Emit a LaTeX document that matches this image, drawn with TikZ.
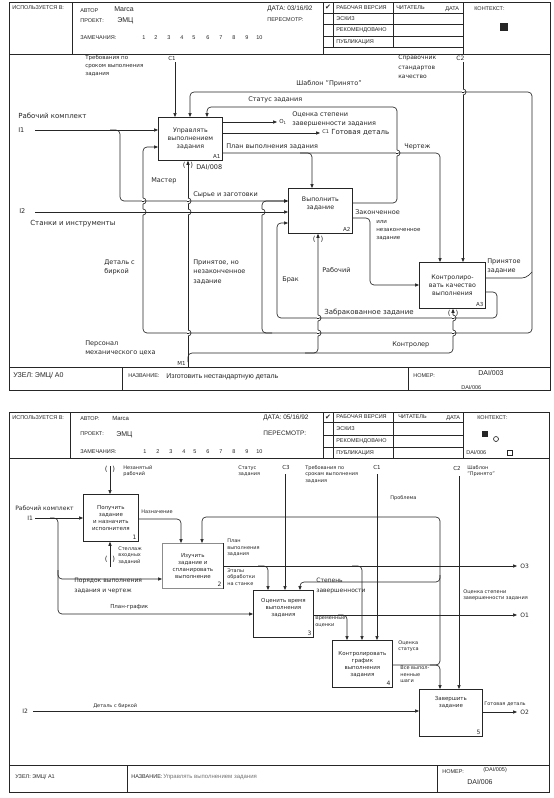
\documentclass[tikz,border=0pt]{standalone}
\usepackage{fontspec}
\setmainfont{DejaVu Sans}
\newfontfamily\hdrfont{Liberation Sans}
\usetikzlibrary{arrows.meta}
\newcommand\vbump[2]{%
  \fill[white] (#1-0.6,#2-3.4) rectangle (#1+0.6,#2+3.4);
  \draw (#1-1,#2) -- (#1+1,#2);
  \draw (#1,#2-3) arc[start angle=90,end angle=-90,radius=3pt];}
\begin{document}
\begin{tikzpicture}[x=1pt,y=-1pt,line width=0.65pt,color=black!85,
  boxa/.style={draw,line width=0.8pt,anchor=north west,align=center,inner sep=1pt,font=\fontsize{6.3}{7.8}\selectfont},
  arr/.style={-{Triangle[length=4pt,width=3.2pt]}},
  arrb/.style={{Triangle[length=4pt,width=3.2pt]}-{Triangle[length=4pt,width=3.2pt]}},
  rc/.style={rounded corners=4pt},
  t5/.style={font=\fontsize{5}{6.5}\selectfont,inner sep=0pt,align=left},
  t55/.style={font=\fontsize{5.5}{8}\selectfont,inner sep=0pt,align=left},
  t6/.style={font=\fontsize{6}{9.5}\selectfont,inner sep=0pt,align=left},
  t65/.style={font=\fontsize{6.5}{9.5}\selectfont,inner sep=0pt,align=left},
  t7/.style={font=\fontsize{7}{9.5}\selectfont,inner sep=0pt,align=left},
  hd/.style={font=\hdrfont\fontsize{5.5}{6.5}\selectfont,inner sep=0pt,anchor=west},
  hdb/.style={font=\hdrfont\fontsize{7}{8}\selectfont,inner sep=0pt,anchor=west},
  tun/.style={font=\fontsize{7}{8}\selectfont,inner sep=0pt}]
\useasboundingbox (0,0) rectangle (554,798);
\fill[white] (0,0) rectangle (554,798);

% ================= PAGE 1 : FRAME =================
\draw[line width=0.8pt] (9,2) rectangle (550,390);
\draw (9,54) -- (550,54);
\draw (9,367) -- (550,367);
\draw (72,2) -- (72,54);
\draw (323,2) -- (323,54);
\draw (463,2) -- (463,54);
\draw (333,2) -- (333,47.5);
\draw (393,2) -- (393,47.5);
\foreach \yy in {13.5,24.5,36,47.5} \draw (323,\yy) -- (463,\yy);
\draw (122,367) -- (122,390);
\draw (408,367) -- (408,390);
\fill (500,23) rectangle (508,31);

\node[hd] (h1) at (12,8) {ИСПОЛЬЗУЕТСЯ В:};
\node[hd] (h2) at (80,11) {АВТОР};
\node[hdb] (h3) at (114,9) {Marca};
\node[hd] (h4) at (80,21) {ПРОЕКТ:};
\node[hdb] (h5) at (117,21) {ЭМЦ};
\node[hd] (h6) at (80,38) {ЗАМЕЧАНИЯ:};
\foreach \xx/\nn [count=\i] in {142/1,154/2,167/3,180/4,192/5,206/6,219/7,232/8,245/9,256/10}
  \node[hd] (hn\i) at (\xx,38) {\nn};
\node[hd,font=\hdrfont\fontsize{6.5}{7}\selectfont] (h7) at (267,9) {ДАТА: 03/16/92};
\node[hd] (h8) at (267,20) {ПЕРЕСМОТР:};
\node[inner sep=0pt,font=\fontsize{7}{7}\selectfont] (h9) at (328,7.5) {✔};
\node[hd] (h10) at (336,8) {РАБОЧАЯ ВЕРСИЯ};
\node[hd] (h11) at (336,19) {ЭСКИЗ};
\node[hd] (h12) at (336,30) {РЕКОМЕНДОВАНО};
\node[hd] (h13) at (336,42) {ПУБЛИКАЦИЯ};
\node[hd] (h14) at (396,8) {ЧИТАТЕЛЬ};
\node[hd] (h15) at (445,9) {ДАТА};
\node[hd] (h16) at (474,9) {КОНТЕКСТ:};
\node[hdb] (f1) at (13,376) {УЗЕЛ: ЭМЦ/ А0};
\node[hd] (f2) at (128,376) {НАЗВАНИЕ:};
\node[hdb] (f3) at (166,377) {Изготовить нестандартную деталь};
\node[hd] (f4) at (413,376) {НОМЕР:};
\node[hdb] (f5) at (478,373) {DAI/003};
\node[hd] (f6) at (461,388) {DAI/006};

% ================= PAGE 1 : BOXES =================
\node[boxa,minimum width=64,minimum height=43] (A1) at (158,117) {Управлять\\выполнением\\задания};
\node[boxa,minimum width=64,minimum height=45] (A2) at (288,188) {Выполнить\\задание\\[8pt]\mbox{}};
\node[boxa,minimum width=66,minimum height=46] (A3) at (419,262) {Контролиро-\\вать качество\\выполнения};
\node[t55,anchor=south east] (A1n) at ([xshift=-2pt,yshift=2pt]A1.south east) {A1};
\node[t55,anchor=south east] (A2n) at ([xshift=-2pt,yshift=2pt]A2.south east) {A2};
\node[t55,anchor=south east] (A3n) at ([xshift=-2pt,yshift=2pt]A3.south east) {A3};

% ================= PAGE 1 : CONNECTORS =================
\coordinate (c1) at (175,62);
\draw[arr] (c1) -- (c1 |- A1.north);
\draw[arrb,rc] (190,0 |- A1.north) -- (190,92) -- (532,92) -- (532,333) -- (143,333) -- (143,147) -- (A1.west |- 0,147);
\draw[rc] (A3.east |- 0,278) -- (526,278) -- (532,272);
\draw[arr,rc] (A2.east |- 0,203) -- (397,203) -- (397,107) -- (207,107) -- (207,0 |- A1.north);
\coordinate (o1) at (277,122);
\draw[arr] (A1.east |- o1) -- (o1);
\coordinate (o2) at (320,133);
\draw[arr] (A1.east |- o2) -- (o2);
\draw[arr,rc] (A1.east |- 0,153) -- (440,153) -- (440,0 |- A3.north);
\draw[arr,rc] (300,153) -- (312,153) -- (312,0 |- A2.north);
\coordinate (c2) at (463,62);
\draw[arr] (c2) -- (c2 |- A3.north);
\coordinate (i1) at (35,130);
\draw[arr] (i1) -- (i1 -| A1.west);
\draw[arr,rc] (110,130) -- (120,130) -- (120,201) -- (A2.west |- 0,201);
\draw[arr,rc] (272,333) -- (262,333) -- (262,201) -- (A2.west |- 0,201);
\coordinate (i2) at (35,212);
\draw[arr] (i2) -- (i2 -| A2.west);
\draw[arr,rc] (A3.east |- 0,292) -- (497,292) -- (497,318) -- (277,318) -- (277,223) -- (A2.west |- 0,223);
\draw[arr,rc] (A2.east |- 0,218) -- (370,218) -- (370,285) -- (A3.west |- 0,285);
\coordinate (m1) at (188,367);
\draw[arr] (m1) -- (m1 |- A1.south);
\draw[arr,rc] (188,362) -- (188,353) -- (453,353) -- (453,0 |- A3.south);
\draw[arr,rc] (305,353) -- (318,353) -- (318,0 |- A2.south);
% bumps
\vbump{397}{153}
\vbump{463}{92}
\vbump{143}{201}
\vbump{143}{212}
\vbump{188}{201}
\vbump{188}{212}
\vbump{188}{333}
\vbump{262}{212}
\vbump{318}{318}
\vbump{318}{333}
\vbump{453}{318}
\vbump{453}{333}
% tunnels
\node[tun] (tp1) at (188,165.5) {(\hspace{5pt})};
\node[tun] (tp2) at (318,239) {(\hspace{5pt})};
\node[tun] (tp3) at (453,313) {(\hspace{5pt})};

% ================= PAGE 1 : LABELS =================
\node[t55,anchor=north west] (L1) at (85,54.5) {Требования по\\сроком выполнения\\задания};
\node[t55,anchor=west] (L2) at (168,58) {C1};
\node[t6,anchor=north west] (L3) at (398,55) {Справочник\\стандартов\\качество};
\node[t6,anchor=west] (L4) at (456,58) {C2};
\node[t65,anchor=west] (L5) at (296,84) {Шаблон "Принято"};
\node[t65,anchor=west] (L6) at (248,100) {Статус задания};
\node[t65,anchor=north west] (L7) at (292,111) {Оценка степени\\завершенности задания};
\node[t55,anchor=west] (L8) at (279,122) {O\textsubscript{1}};
\node[t5,anchor=west] (L9) at (322,132) {C1};
\node[t7,anchor=west] (L10) at (331,132) {Готовая деталь};
\node[t65,anchor=west] (L11) at (226,147) {План выполнения задания};
\node[t65,anchor=west] (L12) at (404,147) {Чертеж};
\node[t7,anchor=west] (L13) at (18,116) {Рабочий комплект};
\node[t65,anchor=west] (L14) at (18,130) {I1};
\node[t65,anchor=west] (L15) at (151,181) {Мастер};
\node[t65,anchor=west] (L16) at (196,167) {DAI/008};
\node[t65,anchor=west] (L17) at (193,195) {Сырье и заготовки};
\node[t65,anchor=west] (L18) at (19,211) {I2};
\node[t7,anchor=west] (L19) at (30,224) {Станки и инструменты};
\node[t65,anchor=north west] (L20) at (104,259) {Деталь с\\биркой};
\node[t65,anchor=north west] (L21) at (193,259) {Принятое, но\\незаконченное\\задание};
\node[t65,anchor=west] (L22) at (355,212) {Законченное};
\node[t55,anchor=north west] (L23) at (376,220) {или\\незаконченное\\задание};
\node[t65,anchor=west] (L24) at (282,280) {Брак};
\node[t65,anchor=west] (L25) at (322,270) {Рабочий};
\node[t65,anchor=north west] (L26) at (487,258) {Принятое\\задание};
\node[t7,anchor=west] (L27) at (324,313) {Забракованное задание};
\node[t65,anchor=north west] (L28) at (85,340) {Персонал\\механического цеха};
\node[t55,anchor=east] (L29) at (186,363) {M1};
\node[t65,anchor=west] (L30) at (392,345) {Контролер};

% ================= PAGE 2 : FRAME =================
\draw[line width=0.8pt] (9,412) rectangle (549,792);
\draw (9,458) -- (549,458);
\draw (9,765) -- (549,765);
\draw (70,412) -- (70,458);
\draw (323,412) -- (323,458);
\draw (463,412) -- (463,458);
\draw (333,412) -- (333,458);
\draw (393,412) -- (393,458);
\foreach \yy in {422.5,435,447} \draw (323,\yy) -- (463,\yy);
\draw (127,765) -- (127,792);
\draw (437,765) -- (437,792);
\fill (482,431) rectangle (488,437);
\draw (496,439) circle[radius=2.5pt];
\draw (507,450) rectangle (512,455);

\node[hd] (k1) at (12,418) {ИСПОЛЬЗУЕТСЯ В:};
\node[hd] (k2) at (80,419) {АВТОР:};
\node[hdb,font=\hdrfont\fontsize{6}{7}\selectfont] (k3) at (112,418) {Marca};
\node[hd] (k4) at (80,434) {ПРОЕКТ:};
\node[hdb] (k5) at (116,435) {ЭМЦ};
\node[hd] (k6) at (80,452) {ЗАМЕЧАНИЯ:};
\foreach \xx/\nn [count=\i] in {143/1,156/2,169/3,182/4,193/5,206/6,219/7,232/8,245/9,256/10}
  \node[hd] (kn\i) at (\xx,452) {\nn};
\node[hd,font=\hdrfont\fontsize{6.5}{7}\selectfont] (k7) at (263,418) {ДАТА: 05/16/92};
\node[hd,font=\hdrfont\fontsize{6.5}{7}\selectfont] (k8) at (263,433) {ПЕРЕСМОТР:};
\node[inner sep=0pt,font=\fontsize{7}{7}\selectfont] (k9) at (328,417.5) {✔};
\node[hd] (k10) at (336,417) {РАБОЧАЯ ВЕРСИЯ};
\node[hd] (k11) at (336,429) {ЭСКИЗ};
\node[hd] (k12) at (336,441) {РЕКОМЕНДОВАНО};
\node[hd] (k13) at (336,453) {ПУБЛИКАЦИЯ};
\node[hd] (k14) at (398,417) {ЧИТАТЕЛЬ};
\node[hd] (k15) at (446,418) {ДАТА};
\node[hd] (k16) at (477,418) {КОНТЕКСТ:};
\node[hd] (k17) at (466,453) {DAI/006};
\node[hd] (g1) at (15,777) {УЗЕЛ: ЭМЦ/ А1};
\node[hd] (g2) at (131,777) {НАЗВАНИЕ:};
\node[hd,text=black!55,font=\hdrfont\fontsize{6}{7}\selectfont] (g3) at (163,777) {Управлять выполнением задания};
\node[hd] (g4) at (442,772) {НОМЕР:};
\node[hd] (g5) at (483,770) {(DAI/005)};
\node[hdb] (g6) at (467,782) {DAI/006};

% ================= PAGE 2 : BOXES =================
\node[boxa,minimum width=55,minimum height=47,font=\fontsize{5.5}{7}\selectfont] (B1) at (83,494) {Получить\\задание\\и назначить\\исполнителя};
\node[boxa,draw=black!45,minimum width=61,minimum height=45,font=\fontsize{5.5}{7}\selectfont] (B2) at (162,543) {Изучить\\задание и\\спланировать\\выполнение};
\draw[line width=0.8pt] (B2.north east) -- (B2.south east);
\node[boxa,minimum width=60,minimum height=47,font=\fontsize{5.5}{7}\selectfont] (B3) at (253,590) {Оценить время\\выполнения\\задания\\[6pt]\mbox{}};
\node[boxa,minimum width=60,minimum height=47,font=\fontsize{5.5}{7}\selectfont] (B4) at (332,640) {Контролировать\\график\\выполнения\\задания};
\node[boxa,minimum width=63,minimum height=47,font=\fontsize{5.5}{7}\selectfont] (B5) at (419,689) {Завершить\\задание\\[14pt]\mbox{}};
\node[t6,anchor=south east] (B1n) at ([xshift=-2pt,yshift=2pt]B1.south east) {1};
\node[t6,anchor=south east] (B2n) at ([xshift=-2pt,yshift=2pt]B2.south east) {2};
\node[t6,anchor=south east] (B3n) at ([xshift=-2pt,yshift=2pt]B3.south east) {3};
\node[t6,anchor=south east] (B4n) at ([xshift=-2pt,yshift=2pt]B4.south east) {4};
\node[t6,anchor=south east] (B5n) at ([xshift=-2pt,yshift=2pt]B5.south east) {5};

% ================= PAGE 2 : CONNECTORS =================
\coordinate (t1) at (110,466);
\draw[arr] (t1) -- (t1 |- B1.north);
\coordinate (t2) at (110,567);
\draw[arr] (t2) -- (t2 |- B1.south);
\node[tun] (tq1) at (110,469) {(\hspace{5pt})};
\node[tun] (tq2) at (110,559) {(\hspace{5pt})};
\coordinate (pi1) at (35,518);
\draw[arr] (pi1) -- (pi1 -| B1.west);
\draw[arr,rc] (50,518) -- (58,518) -- (58,614) -- (B3.west |- 0,614);
\draw[arr,rc] (58,570) -- (58,579) -- (B2.west |- 0,579);
\draw[arr,rc] (B1.east |- 0,519) -- (181,519) -- (181,0 |- B2.north);
\draw[arr,rc] (B4.east |- 0,665) -- (440,665) -- (440,517) -- (202,517) -- (202,0 |- B2.north);
\draw[arr,rc] (440,575) -- (440,582) -- (300,582) -- (300,0 |- B3.north);
\draw[arr,rc] (430,665) -- (440,665) -- (440,0 |- B5.north);
\coordinate (o3) at (517,566);
\draw[arr] (B2.east |- o3) -- (o3);
\draw[arr,rc] (258,566) -- (268,566) -- (268,0 |- B3.north);
\draw[arr,rc] (352,566) -- (362,566) -- (362,0 |- B4.north);
\coordinate (c3) at (285,474);
\draw[arr] (c3) -- (c3 |- B3.north);
\coordinate (pc1) at (377,474);
\draw[arr] (pc1) -- (pc1 |- B4.north);
\coordinate (pc2) at (459,476);
\draw[arr] (pc2) -- (pc2 |- B5.north);
\coordinate (po1) at (517,615);
\draw[arr] (B3.east |- po1) -- (po1);
\draw[arr,rc] (338,615) -- (347,615) -- (347,0 |- B4.north);
\coordinate (pi2) at (33,711);
\draw[arr] (pi2) -- (pi2 -| B5.west);
\coordinate (po2) at (517,712);
\draw[arr] (B5.east |- po2) -- (po2);

% ================= PAGE 2 : LABELS =================
\node[t5,anchor=north west] (M1) at (123,465) {Незанятый\\рабочий};
\node[t5,anchor=north west] (M2) at (118,546) {Стеллаж\\входных\\заданий};
\node[t6,anchor=west] (M3) at (15,508) {Рабочий комплект};
\node[t6,anchor=west] (M4) at (27,518) {I1};
\node[t5,anchor=west] (M5) at (141,512) {Назначение};
\node[t6,anchor=north west] (M6) at (74,578) {Порядок выполнения\\задания и чертеж};
\node[t55,anchor=west] (M7) at (110,607) {План-график};
\node[t5,anchor=north west] (M8) at (227,539) {План\\выполнения\\задания};
\node[t5,anchor=north west] (M9) at (227,568) {Этапы\\обработки\\на станке};
\node[t5,anchor=north west] (M10) at (238,465) {Статус\\задания};
\node[t55,anchor=west] (M11) at (282,467) {C3};
\node[t5,anchor=north west] (M12) at (305,465) {Требования по\\срокам выполнения\\задания};
\node[t55,anchor=west] (M13) at (373,467) {C1};
\node[t55,anchor=west] (M14) at (453,468) {C2};
\node[t5,anchor=north west] (M15) at (467,465) {Шаблон\\"Принято"};
\node[t5,anchor=west] (M16) at (390,498) {Проблема};
\node[t6,anchor=west] (M17) at (520,566) {O3};
\node[t6,anchor=north west] (M18) at (316,578) {Степень\\завершенности};
\node[t5,anchor=north west] (M19) at (463,589) {Оценка степени\\завершенности задания};
\node[t6,anchor=west] (M20) at (520,615) {O1};
\node[t5,anchor=north west] (M21) at (315,616) {Временные\\оценки};
\node[t5,anchor=north west] (M22) at (398,640) {Оценка\\статуса};
\node[t5,anchor=north west] (M23) at (400,666) {Все выпол-\\ненные\\шаги};
\node[t5,anchor=west] (M24) at (484,704) {Готовая деталь};
\node[t6,anchor=west] (M25) at (520,712) {O2};
\node[t6,anchor=west] (M26) at (22,711) {I2};
\node[t5,anchor=west] (M27) at (93,706) {Деталь с биркой};
\end{tikzpicture}
\end{document}
